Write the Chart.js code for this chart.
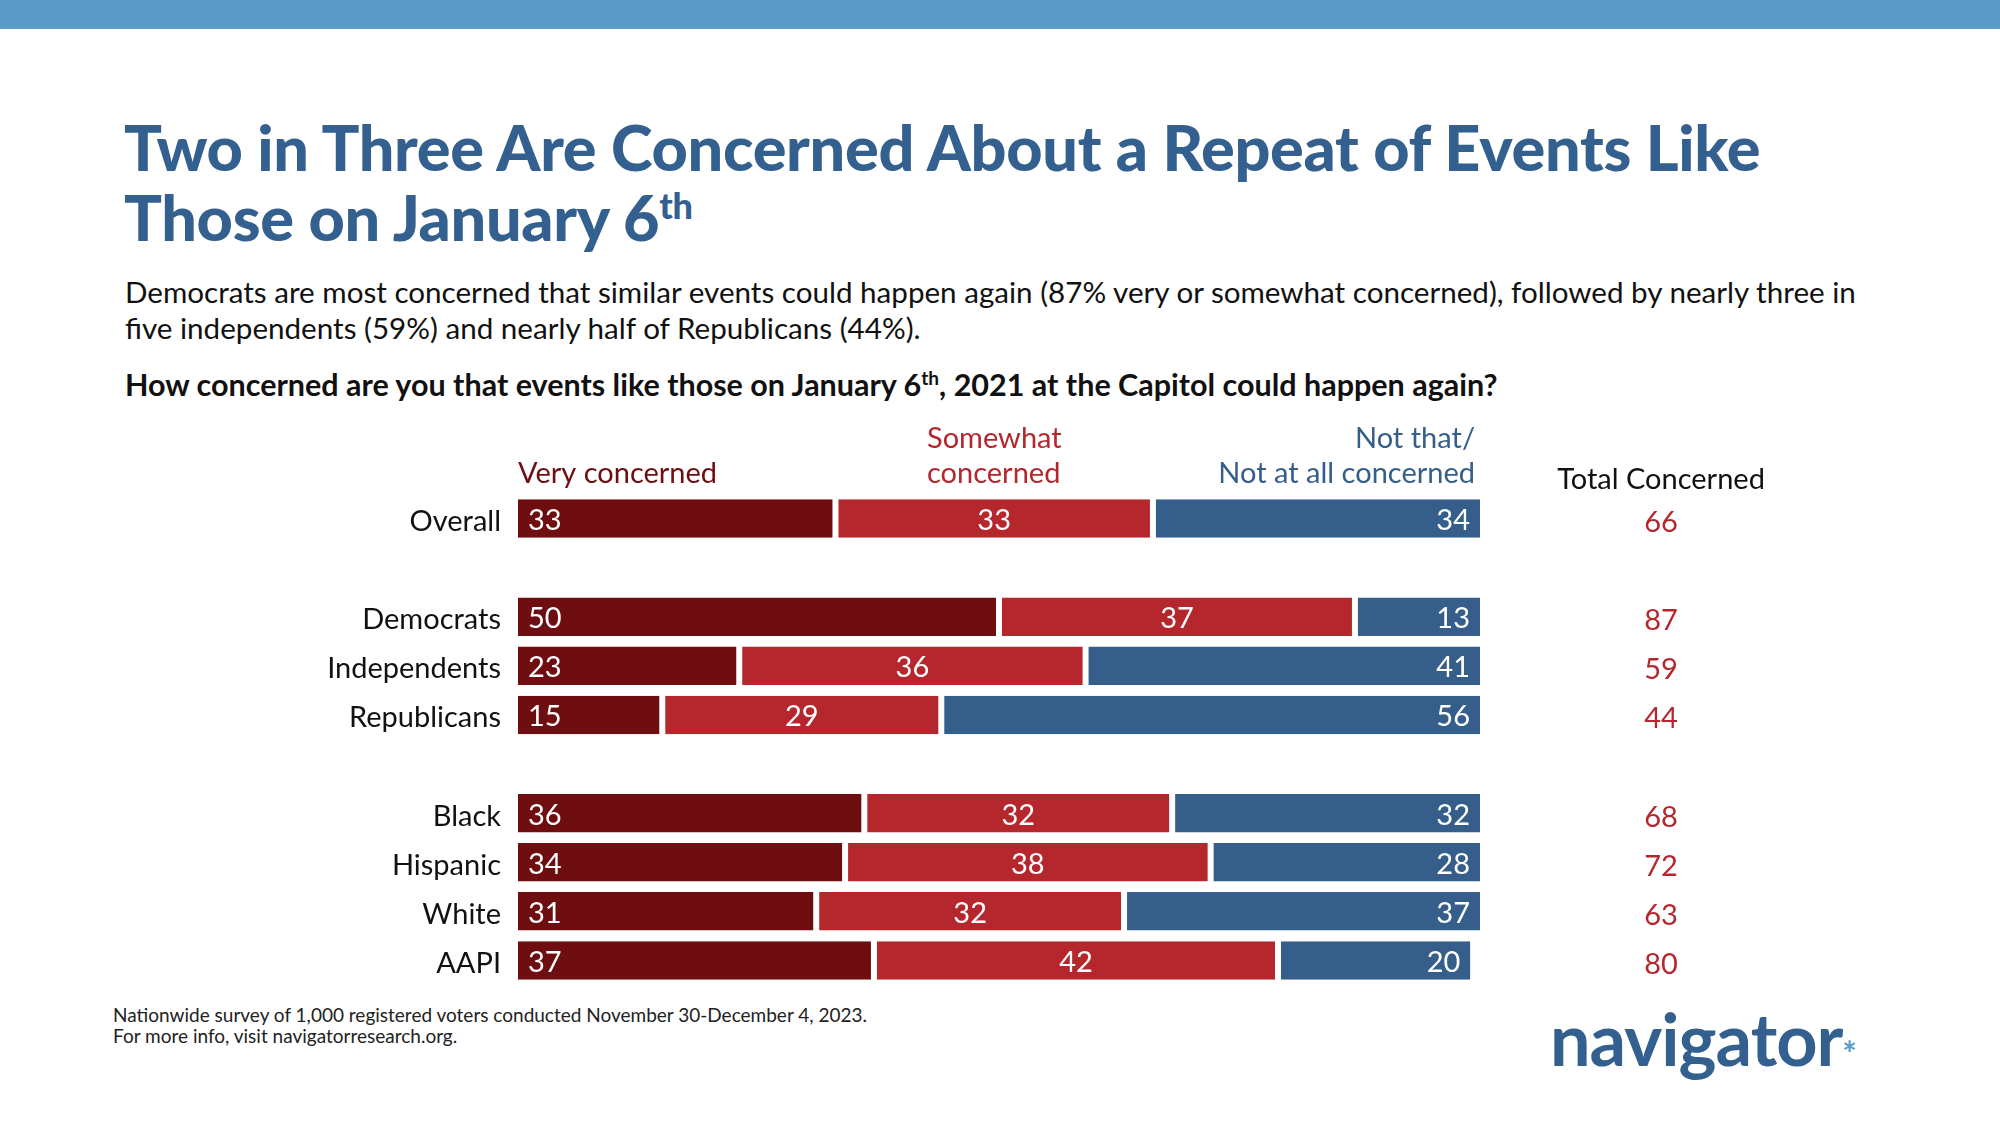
<!DOCTYPE html>
<html><head><meta charset="utf-8">
<script src="https://cdn.jsdelivr.net/npm/chart.js@4/dist/chart.umd.min.js"></script>
<style>
body{margin:0;width:2000px;height:1125px;background:#fff;font-family:Lato,"Open Sans",sans-serif;position:relative;overflow:hidden}
.a{position:absolute;white-space:nowrap}
#bar{left:0;top:0;width:2000px;height:29px;background:#5b9bca}
#title{left:124px;top:112px;font-size:63px;font-weight:900;color:#33608e;line-height:70px;letter-spacing:-0.3px}
#sub{left:125px;top:274px;font-size:29.6px;color:#111;line-height:36px}
#q{left:125px;top:366px;font-size:30.5px;font-weight:bold;color:#111}
#foot{left:113px;top:1004px;font-size:19px;color:#222;line-height:21px}
#logo{left:1550px;top:995px;font-size:72px;font-weight:bold;color:#33608e;letter-spacing:-1px}
#logo span{color:#5b9bca;font-size:34px}
canvas{position:absolute;left:0;top:0}
</style></head><body>
<div class="a" id="bar"></div>
<div class="a" id="title">Two in Three Are Concerned About a Repeat of Events Like<br>Those on January 6<sup style="font-size:36px;line-height:0">th</sup></div>
<div class="a" id="sub">Democrats are most concerned that similar events could happen again (87% very or somewhat concerned), followed by nearly three in<br>five independents (59%) and nearly half of Republicans (44%).</div>
<div class="a" id="q">How concerned are you that events like those on January 6<sup style="font-size:19px">th</sup>, 2021 at the Capitol could happen again?</div>
<div class="a" id="foot">Nationwide survey of 1,000 registered voters conducted November 30-December 4, 2023.<br>For more info, visit navigatorresearch.org.</div>
<div class="a" id="logo">navigator<span>*</span></div>
<canvas id="c" width="2000" height="1125"></canvas>
<script>
const categories=["Overall","","Democrats","Independents","Republicans","","Black","Hispanic","White","AAPI"];
const veryConcerned=[33,null,50,23,15,null,36,34,31,37];
const somewhatConcerned=[33,null,37,36,29,null,32,38,32,42];
const notConcerned=[34,null,13,41,56,null,32,28,37,20];
const totalConcerned=[66,null,87,59,44,null,68,72,63,80];
const colors=["#6e0e10","#b5272d","#355f8a"];
const F='Lato, "Open Sans", sans-serif';
const labels={id:'labels',afterDatasetsDraw(ch){
 const c=ch.ctx;c.save();c.textBaseline='middle';
 const y=ch.scales.y;
 ch.data.datasets.forEach((ds,di)=>{ch.getDatasetMeta(di).data.forEach((el,i)=>{
  if(ds.data[i]==null)return;c.fillStyle='#fff';c.font='29px '+F;
  const l=Math.min(el.x,el.base),r=Math.max(el.x,el.base);
  if(di==0){c.textAlign='left';c.fillText(ds.data[i],l+10,el.y+2);}
  else if(di==1){c.textAlign='center';c.fillText(ds.data[i],(l+r)/2,el.y+2);}
  else{c.textAlign='right';c.fillText(ds.data[i],r-10,el.y+2);}
 });});
 categories.forEach((cat,i)=>{const yy=y.getPixelForValue(i);
  c.fillStyle='#111';c.font='29px '+F;c.textAlign='right';c.fillText(cat,501,yy+3);
  if(totalConcerned[i]!=null){c.fillStyle='#b5272d';c.textAlign='center';c.fillText(totalConcerned[i],1661,yy+4);}
 });
 c.font='29px '+F;c.textAlign='left';c.fillStyle='#6e0e10';c.fillText('Very concerned',518,474);
 c.fillStyle='#b5272d';c.fillText('Somewhat',927,439);c.fillText('concerned',927,474);
 c.fillStyle='#355f8a';c.textAlign='right';c.fillText('Not that/',1475,439);c.fillText('Not at all concerned',1475,474);
 c.fillStyle='#111';c.textAlign='center';c.fillText('Total Concerned',1661,480);
 c.restore();}};
new Chart(document.getElementById('c'),{type:'bar',
 data:{labels:categories,datasets:[veryConcerned,somewhatConcerned,notConcerned].map((d,i)=>({data:d,backgroundColor:colors[i],borderColor:'#fff',borderWidth:{left:i?3:0,right:i<2?3:0},borderSkipped:false,barPercentage:0.8,categoryPercentage:0.98}))},
 options:{indexAxis:'y',responsive:false,animation:false,
  layout:{padding:{left:518,right:520,top:494,bottom:140}},
  plugins:{legend:{display:false},tooltip:{enabled:false}},
  scales:{x:{stacked:true,min:0,max:100,display:false},y:{stacked:true,display:false}}},
 plugins:[labels]});
</script></body></html>
